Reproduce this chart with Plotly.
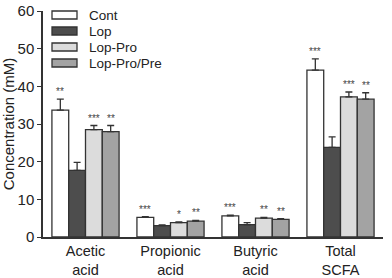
import plotly.graph_objects as go

categories = ["Acetic<br>acid", "Propionic<br>acid", "Butyric<br>acid", "Total<br>SCFA"]
series_names = ["Cont", "Lop", "Lop-Pro", "Lop-Pro/Pre"]
cont = [33.7, 5.2, 5.6, 44.3]
lop = [17.7, 3.0, 3.3, 23.8]
lop_pro = [28.5, 3.8, 5.0, 37.2]
lop_pro_pre = [28.0, 4.2, 4.7, 36.6]
cont_err = [2.9, 0.2, 0.2, 3.0]
lop_err = [2.1, 0.2, 0.5, 2.8]
lop_pro_err = [1.1, 0.2, 0.2, 1.3]
lop_pro_pre_err = [1.6, 0.2, 0.2, 1.7]
cont_sig = ["**", "***", "***", "***"]
lop_sig = ["", "", "", ""]
lop_pro_sig = ["***", "*", "**", "***"]
lop_pro_pre_sig = ["**", "**", "**", "**"]

values = [cont, lop, lop_pro, lop_pro_pre]
errors = [cont_err, lop_err, lop_pro_err, lop_pro_pre_err]
sigs = [cont_sig, lop_sig, lop_pro_sig, lop_pro_pre_sig]
colors = ["#ffffff", "#4d4d4d", "#dcdcdc", "#a3a3a3"]
edge = "#333333"

xs = list(range(len(categories)))
bargap = 0.21
bw = (1 - bargap) / 4

fig = go.Figure()
for k in range(4):
    fig.add_trace(go.Bar(
        x=xs, y=values[k], name=series_names[k],
        marker=dict(color=colors[k], line=dict(color=edge, width=1.3)),
        error_y=dict(type="data", array=errors[k], arrayminus=[0]*4, symmetric=False,
                     color=edge, thickness=1.3, width=3.5),
        showlegend=False,
    ))

annotations = []
for k in range(4):
    off = (k - 1.5) * bw
    for i in xs:
        if sigs[k][i]:
            annotations.append(dict(
                x=i + off, y=values[k][i] + errors[k][i], xref="x", yref="y",
                text=sigs[k][i], showarrow=False, yanchor="bottom", yshift=0,
                font=dict(size=10, color="#444444", family="Liberation Sans, Arial")))

# legend
plot_h = 226.0
plot_w = 340.0
shapes = []
ycent = [15, 31, 47, 63]
for k in range(4):
    yc = (237 - ycent[k]) / plot_h
    shapes.append(dict(type="rect", xref="paper", yref="paper",
                       x0=9 / plot_w, x1=34 / plot_w,
                       y0=yc - 4 / plot_h, y1=yc + 4 / plot_h,
                       fillcolor=colors[k], line=dict(color=edge, width=1.3)))
    annotations.append(dict(x=45 / plot_w, y=yc, xref="paper", yref="paper",
                            text=series_names[k], showarrow=False,
                            xanchor="left", yanchor="middle", borderpad=0,
                            font=dict(size=13.5, color="#222222", family="Liberation Sans, Arial")))

fig.update_layout(
    width=392, height=278,
    margin=dict(l=43, r=9, t=11, b=41),
    plot_bgcolor="white", paper_bgcolor="white",
    barmode="group", bargap=bargap, bargroupgap=0,
    font=dict(family="Liberation Sans, Arial", size=15, color="#222222"),
    shapes=shapes, annotations=annotations,
)
fig.update_xaxes(range=[-0.5, 3.5], tickvals=xs, ticktext=categories,
                 showline=True, linecolor=edge, linewidth=1.5, ticks="", ticklen=0,
                 showgrid=False, zeroline=False, tickfont=dict(size=14.5),
                 ticklabelstandoff=0, automargin=False)
fig.update_yaxes(range=[0, 60], tickvals=[0, 10, 20, 30, 40, 50, 60],
                 showline=True, linecolor=edge, linewidth=1.5, ticks="outside",
                 ticklen=4, tickcolor=edge, showgrid=False, zeroline=False,
                 title=dict(text="Concentration (mM)", font=dict(size=15), standoff=4),
                 tickfont=dict(size=15), automargin=False)

fig.write_html("out.html")
